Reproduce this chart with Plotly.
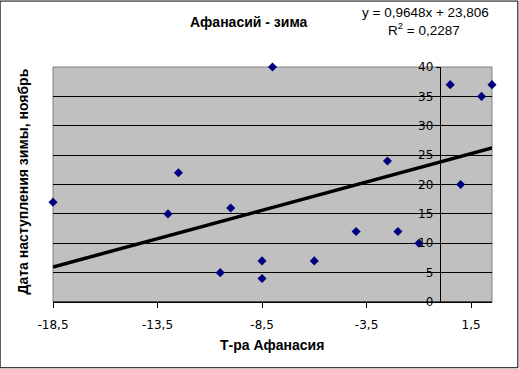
import plotly.graph_objects as go

# Data
temp_afanasy = [-18.5, -13, -12.5, -10.5, -10, -8.5, -8.5, -8, -6, -4, -2.5, -2, -1, 0.5, 1, 2, 2.5]
winter_date = [17, 15, 22, 5, 16, 7, 4, 40, 7, 12, 24, 12, 10, 37, 20, 35, 37]
x_tickvals = [-18.5, -13.5, -8.5, -3.5, 1.5]
x_ticktext = ["-18,5", "-13,5", "-8,5", "-3,5", "1,5"]
y_tickvals = [0, 5, 10, 15, 20, 25, 30, 35, 40]
slope = 0.9648
intercept = 23.806
r2_text = "0,2287"
x_range = [-18.5, 2.5]
y_range = [0, 40]

W, H = 519, 369
L, R, T, B = 53.3, 491.7, 66.5, 301.7


def px(x):
    return (x - L) / (R - L)


def py(y):
    return (B - y) / (B - T)


FONT = "Liberation Sans, Arial, sans-serif"
TICKFONT = "DejaVu Sans, Liberation Sans, sans-serif"

trend_x = x_range
trend_y = [slope * v + intercept for v in trend_x]

fig = go.Figure()
fig.add_trace(go.Scatter(
    x=trend_x, y=trend_y, mode="lines",
    line=dict(color="black", width=3.5), hoverinfo="skip", showlegend=False,
))
fig.add_trace(go.Scatter(
    x=temp_afanasy, y=winter_date, mode="markers",
    marker=dict(symbol="diamond", color="#000080", size=7),
    cliponaxis=False, showlegend=False,
))

yaxis_pos = (0 - x_range[0]) / (x_range[1] - x_range[0])

fig.update_layout(
    width=W, height=H,
    margin=dict(l=L, r=W - R, t=T, b=H - B, pad=0),
    paper_bgcolor="white",
    plot_bgcolor="#c0c0c0",
    font=dict(family=FONT, size=11, color="black"),
    showlegend=False,
    xaxis=dict(
        range=x_range, tickvals=x_tickvals, ticktext=x_ticktext,
        showgrid=False, zeroline=False, showline=True, linecolor="black", linewidth=1,
        ticks="outside", ticklen=5, tickcolor="black", tickwidth=1,
        tickfont=dict(family=TICKFONT, size=12, color="black"), ticklabelstandoff=7,
        domain=[0, 1],
    ),
    yaxis=dict(
        range=y_range, tickvals=y_tickvals,
        showgrid=True, gridcolor="black", gridwidth=1,
        zeroline=False, showline=True, linecolor="black", linewidth=1,
        ticks="outside", ticklen=4, tickcolor="black", tickwidth=1,
        tickfont=dict(family=TICKFONT, size=12, color="black"),
        anchor="free", position=yaxis_pos, side="left",
    ),
    shapes=[
        dict(type="rect", xref="paper", yref="paper", x0=0, x1=1, y0=0, y1=1,
             line=dict(color="#808080", width=1), fillcolor="rgba(0,0,0,0)", layer="below"),
        dict(type="line", xref="paper", yref="paper", x0=0, x1=1, y0=0, y1=0,
             line=dict(color="black", width=1), layer="above"),
        dict(type="rect", xref="paper", yref="paper",
             x0=px(0.5), x1=px(517.5), y0=py(367.5), y1=py(0.5),
             line=dict(color="black", width=1), fillcolor="rgba(0,0,0,0)"),
    ],
    annotations=[
        dict(text="<b>Афанасий - зима</b>", xref="paper", yref="paper",
             x=px(249), y=py(21), showarrow=False, xanchor="center", yanchor="middle",
             font=dict(family=FONT, size=14, color="black")),
        dict(text="y = 0,9648x + 23,806", xref="paper", yref="paper",
             x=px(425), y=py(11.5), showarrow=False, xanchor="center", yanchor="middle",
             font=dict(family=FONT, size=13.5, color="black")),
        dict(text="R<sup>2</sup> = " + r2_text, xref="paper", yref="paper",
             x=px(424), y=py(28.5), showarrow=False, xanchor="center", yanchor="middle",
             font=dict(family=FONT, size=13.5, color="black")),
        dict(text="<b>Т-ра Афанасия</b>", xref="paper", yref="paper",
             x=px(272), y=py(345), showarrow=False, xanchor="center", yanchor="middle",
             font=dict(family=FONT, size=14, color="black")),
        dict(text="<b>Дата наступления зимы, ноябрь</b>", xref="paper", yref="paper",
             x=px(23), y=py(181.5), showarrow=False, xanchor="center", yanchor="middle",
             textangle=-90, font=dict(family=FONT, size=14, color="black")),
    ],
)

fig.write_html("out.html")
